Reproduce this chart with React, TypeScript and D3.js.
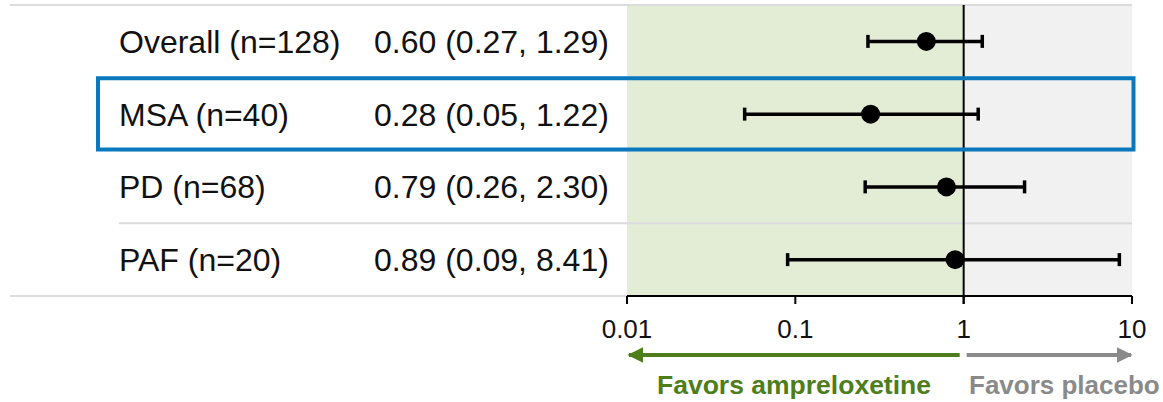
import React from "react";
import * as d3 from "d3";

const labels = ["Overall (n=128)", "MSA (n=40)", "PD (n=68)", "PAF (n=20)"];
const estimates = [0.6, 0.28, 0.79, 0.89];
const lowers = [0.27, 0.05, 0.26, 0.09];
const uppers = [1.29, 1.22, 2.3, 8.41];
const ciText = ["0.60 (0.27, 1.29)", "0.28 (0.05, 1.22)", "0.79 (0.26, 2.30)", "0.89 (0.09, 8.41)"];
const tickValues = [0.01, 0.1, 1, 10];
const tickLabels = ["0.01", "0.1", "1", "10"];
const highlightIndex = 1;
const leftLabel = "Favors ampreloxetine";
const rightLabel = "Favors placebo";

const W = 1163;
const H = 402;
const FONT = "Arial, 'Liberation Sans', Helvetica, sans-serif";

export default function App() {
  const x = d3.scaleLog().domain([0.01, 10]).range([627, 1132]);
  const y = d3.scaleBand<number>().domain(d3.range(labels.length)).range([5, 296]);
  const rowH = y.bandwidth();
  const top = 5;
  const bottom = 296;
  const ref = x(1);
  const green = "#4e7d1b";
  const grey = "#8a8a8a";

  return (
    <svg width={W} height={H} style={{ position: "absolute", left: 0, top: 0, background: "#fff" }} fontFamily={FONT}>
      {/* background zones */}
      <rect x={x(0.01)} y={top} width={ref - x(0.01)} height={bottom - top} fill="#e3edd6" />
      <rect x={ref} y={top} width={x(10) - ref} height={bottom - top} fill="#f1f1f1" />

      {/* top line */}
      <line x1={10} x2={1132} y1={top} y2={top} stroke="#dcdcdc" strokeWidth={2} />
      {/* row separators */}
      {d3.range(1, labels.length).map((i) => (
        <line key={"s" + i} x1={119} x2={1132} y1={y(i)!} y2={y(i)!} stroke="#dcdcdc" strokeWidth={2} />
      ))}
      {/* bottom line */}
      <line x1={10} x2={x(0.01)} y1={bottom} y2={bottom} stroke="#dcdcdc" strokeWidth={2} />

      {/* labels */}
      {labels.map((l, i) => {
        const cy = y(i)! + rowH / 2;
        return (
          <g key={"t" + i}>
            <text x={119} y={cy + 11.5} fontSize={32} fill="#111">{l}</text>
            <text x={374} y={cy + 11.5} fontSize={32} fill="#111">{ciText[i]}</text>
          </g>
        );
      })}

      {/* reference line */}
      <line x1={ref} x2={ref} y1={top} y2={bottom + 8} stroke="#000" strokeWidth={2} />

      {/* error bars */}
      {estimates.map((e, i) => {
        const cy = y(i)! + rowH / 2;
        return (
          <g key={"e" + i}>
            <line x1={x(lowers[i])} x2={x(uppers[i])} y1={cy} y2={cy} stroke="#000" strokeWidth={3.5} />
            <line x1={x(lowers[i])} x2={x(lowers[i])} y1={cy - 6.5} y2={cy + 6.5} stroke="#000" strokeWidth={3.5} />
            <line x1={x(uppers[i])} x2={x(uppers[i])} y1={cy - 6.5} y2={cy + 6.5} stroke="#000" strokeWidth={3.5} />
            <circle cx={x(e)} cy={cy} r={9.5} fill="#000" />
          </g>
        );
      })}

      {/* highlight box */}
      <rect
        x={98}
        y={y(highlightIndex)! + 0.5}
        width={1133.5 - 98}
        height={rowH - 1.5}
        fill="none"
        stroke="#0b78bd"
        strokeWidth={4}
      />

      {/* axis */}
      <line x1={x(0.01)} x2={x(10)} y1={bottom} y2={bottom} stroke="#000" strokeWidth={2} />
      {tickValues.map((t, i) => (
        <g key={"k" + i}>
          <line x1={x(t)} x2={x(t)} y1={bottom} y2={bottom + 8} stroke="#000" strokeWidth={2} />
          <text x={x(t)} y={338} fontSize={26} textAnchor="middle" fill="#111">{tickLabels[i]}</text>
        </g>
      ))}

      {/* direction arrows */}
      <defs>
        <marker id="ag" viewBox="0 0 10 10" refX={9} refY={5} markerWidth={4} markerHeight={4} orient="auto-start-reverse" markerUnits="strokeWidth">
          <path d="M0,0 L10,5 L0,10 z" fill={green} />
        </marker>
        <marker id="ar" viewBox="0 0 10 10" refX={9} refY={5} markerWidth={4} markerHeight={4} orient="auto" markerUnits="strokeWidth">
          <path d="M0,0 L10,5 L0,10 z" fill={grey} />
        </marker>
      </defs>
      <line x1={ref - 4} x2={x(0.01) + 2} y1={355} y2={355} stroke={green} strokeWidth={4} markerEnd="url(#ag)" />
      <line x1={ref + 3} x2={x(10) - 1} y1={355} y2={355} stroke={grey} strokeWidth={4} markerEnd="url(#ar)" />

      <text x={657} y={394} fontSize={26} fontWeight="bold" fill={green} textLength={274} lengthAdjust="spacingAndGlyphs">{leftLabel}</text>
      <text x={969} y={394} fontSize={26} fontWeight="bold" fill={grey}>{rightLabel}</text>
    </svg>
  );
}
